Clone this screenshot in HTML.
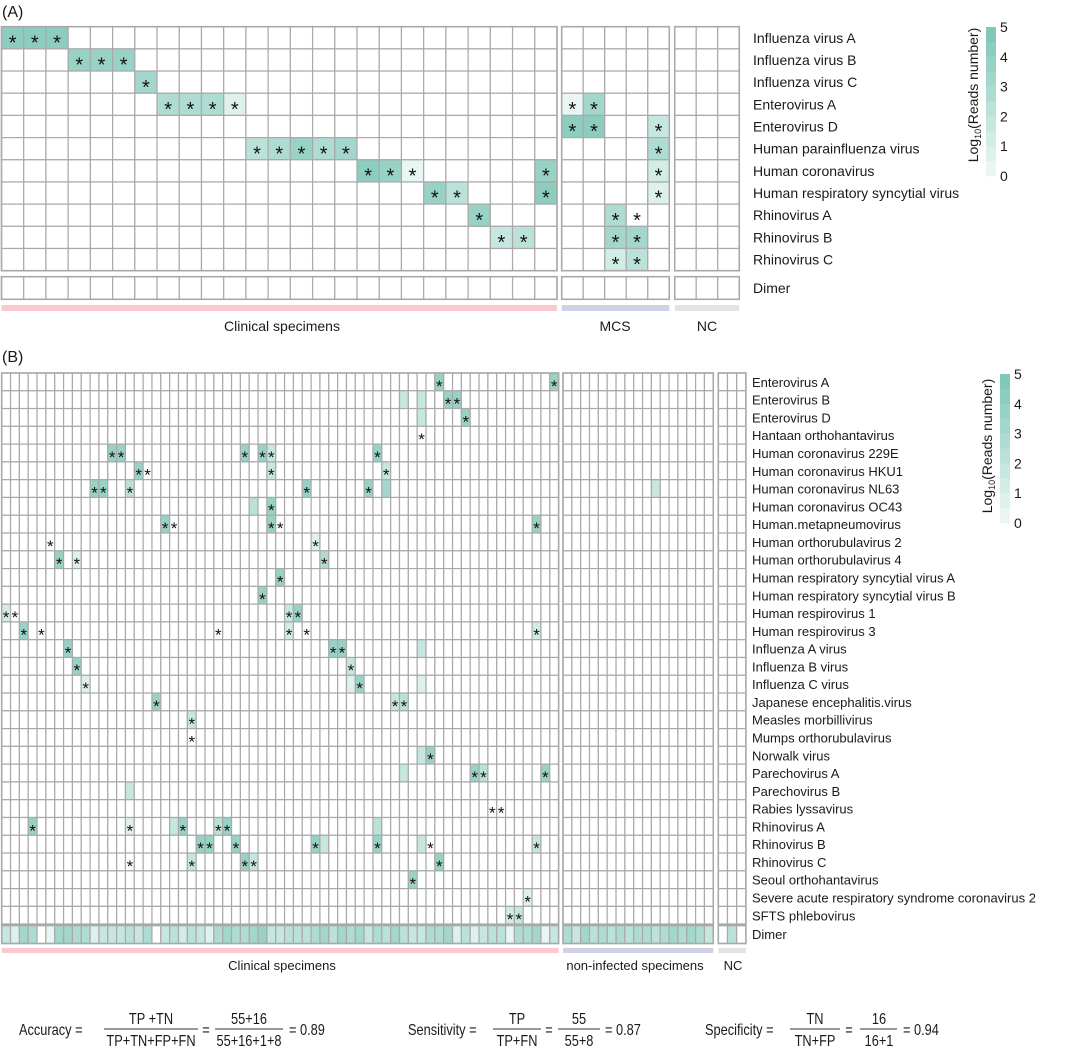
<!DOCTYPE html>
<html><head><meta charset="utf-8">
<style>
html,body{margin:0;padding:0;background:#fff;}
svg{display:block;font-family:"Liberation Sans",Arial,sans-serif;}
</style></head>
<body>
<svg id="chart" width="1080" height="1050" viewBox="0 0 1080 1050" xmlns="http://www.w3.org/2000/svg">
<g id="root"></g>
</svg>
<script>
// ---------- Panel A data ----------
const rowsA = ["Influenza virus A","Influenza virus B","Influenza virus C","Enterovirus A","Enterovirus D","Human parainfluenza virus","Human coronavirus","Human respiratory syncytial virus","Rhinovirus A","Rhinovirus B","Rhinovirus C"];
// [row, col, log10 value, star]
const clinicalA = [[0,0,4.5,1],[0,1,4.5,1],[0,2,4.5,1],[1,3,4,1],[1,4,4,1],[1,5,4,1],[2,6,3.5,1],
 [3,7,3,1],[3,8,3,1],[3,9,3,1],[3,10,1,1],[5,11,2.5,1],[5,12,3,1],[5,13,4,1],[5,14,3,1],[5,15,3.5,1],
 [6,16,4.5,1],[6,17,4,1],[6,18,0.5,1],[6,24,4,1],[7,19,4,1],[7,20,2.5,1],[7,24,4.5,1],[8,21,4,1],[9,22,2,1],[9,23,2.5,1]];
const mcsA = [[3,0,0.5,1],[3,1,3.5,1],[4,0,4.5,1],[4,1,4.5,1],[4,4,2,1],[5,4,3,1],[6,4,1.5,1],[7,4,1,1],
 [8,2,3,1],[8,3,0,1],[9,2,3.5,1],[9,3,3.5,1],[10,2,1.5,1],[10,3,2.5,1]];
const ncA = [];
const dimerClinA = new Array(25).fill(0);
const dimerMcsA = [0,0,0,0,0];
const dimerNcA = [0,0,0];

// ---------- Panel B data ----------
const rowsB = ["Enterovirus A","Enterovirus B","Enterovirus D","Hantaan orthohantavirus","Human coronavirus 229E","Human coronavirus HKU1","Human coronavirus NL63","Human coronavirus OC43","Human.metapneumovirus","Human orthorubulavirus 2","Human orthorubulavirus 4","Human respiratory syncytial virus A","Human respiratory syncytial virus B","Human respirovirus 1","Human respirovirus 3","Influenza A virus","Influenza B virus","Influenza C virus","Japanese encephalitis.virus","Measles morbillivirus","Mumps orthorubulavirus","Norwalk virus","Parechovirus A","Parechovirus B","Rabies lyssavirus","Rhinovirus A","Rhinovirus B","Rhinovirus C","Seoul orthohantavirus","Severe acute respiratory syndrome coronavirus 2","SFTS phlebovirus"];
const clinicalB = [
 [0,49,4,1],[0,62,4,1],
 [1,45,2,0],[1,47,2,0],[1,50,4,1],[1,51,4,1],
 [2,47,2,0],[2,52,4,1],
 [3,47,0,1],
 [4,12,4,1],[4,13,4,1],[4,27,4,1],[4,29,4,1],[4,30,2,1],[4,42,4,1],
 [5,15,4,1],[5,16,0,1],[5,30,2,1],[5,43,2,1],
 [6,10,4,1],[6,11,4,1],[6,14,2.5,1],[6,34,4,1],[6,41,4,1],[6,43,3.5,0],
 [7,28,2.5,0],[7,30,4,1],
 [8,18,4,1],[8,19,0,1],[8,30,4,1],[8,31,0,1],[8,60,4,1],
 [9,5,0,1],[9,35,1,1],
 [10,6,4,1],[10,8,1,1],[10,36,3,1],
 [11,31,4,1],
 [12,29,4,1],
 [13,0,1.5,1],[13,1,0,1],[13,32,2,1],[13,33,4,1],
 [14,2,4,1],[14,4,0,1],[14,24,0,1],[14,32,1.5,1],[14,34,0,1],[14,60,1.5,1],
 [15,7,4,1],[15,37,4,1],[15,38,4,1],[15,47,2,0],
 [16,8,4,1],[16,39,2,1],
 [17,9,1,1],[17,39,1,0],[17,40,4,1],[17,47,1,0],
 [18,17,4,1],[18,44,2,1],[18,45,2.5,1],
 [19,21,2,1],
 [20,21,0,1],
 [21,47,2,0],[21,48,4,1],
 [22,45,2,0],[22,53,4,1],[22,54,2.5,1],[22,61,4,1],
 [23,14,2,0],
 [24,55,0,1],[24,56,0,1],
 [25,3,4,1],[25,14,1,1],[25,19,2,0],[25,20,4,1],[25,24,2.5,1],[25,25,4,1],[25,42,2.5,0],
 [26,22,4,1],[26,23,4,1],[26,26,4,1],[26,35,4,1],[26,36,2,0],[26,42,4,1],[26,47,2,0],[26,48,0,1],[26,60,2,1],
 [27,14,0,1],[27,21,2,1],[27,27,4,1],[27,28,2,1],[27,49,4,1],
 [28,46,4,1],
 [29,59,1,1],
 [30,57,1.5,1],[30,58,2,1]
];
const nonInfB = [[6,10,2,0]];
const ncB = [];
const dimerClinB = [2,1,3.5,3,0,0.5,3.5,3.5,3,3,1,2,2,2,2.5,2,3,0,2,2.5,1.5,2.5,2,1,3,3.5,3,3,3.5,4,2,2,2.5,2.5,2.5,3,3.5,2.5,3.5,3,3.5,2,3,2.5,3.5,2.5,2,2,3,3,3.5,1,2.5,1,2,2.5,2.5,0.5,3,3,3.5,0.5,2];
const dimerNonInfB = [3,2,3.5,2.5,3,2.5,3,2.5,3,3,2.5,3,3.5,3,3.5,3,2];
const dimerNcB = [0,2.5,0];
const legendTicks = [0,1,2,3,4,5];

// ---------- helpers ----------
const NS = "http://www.w3.org/2000/svg";
const root = document.getElementById("root");
function mk(tag, attrs, parent){
  const e = document.createElementNS(NS, tag);
  for (const k in attrs) e.setAttribute(k, attrs[k]);
  (parent || root).appendChild(e);
  return e;
}
function color(v){
  if (v <= 0) return "#ffffff";
  const q = Math.min(5, Math.ceil(v*2)/2);
  const t = q/5;
  const r = Math.round(245 + (128-245)*t), g = Math.round(251 + (200-251)*t), b = Math.round(249 + (184-249)*t);
  return "rgb("+r+","+g+","+b+")";
}
const GRID = "#a9a9a9";

function block(name, x0, y0, cw, rh, ncol, nrow, cells, starSize){
  const g = mk("g", {});
  
  
  const xs = c => x0 + c*cw;
  const ys = r => y0 + r*rh;
  const map = {};
  cells.forEach(d => { map[d[0]+"_"+d[1]] = d; });
  for (let r=0;r<nrow;r++){
    for (let c=0;c<ncol;c++){
      const d = map[r+"_"+c];
      const rect = mk("rect", {x:xs(c), y:ys(r), width:cw, height:rh, fill: d ? color(d[2]) : "#fff", stroke:GRID, "stroke-width":1.2}, g);
      
      
    }
  }
  cells.forEach(d => {
    if (!d[3]) return;
    const t = mk("text", {x:xs(d[1])+cw/2, y:ys(d[0])+rh/2+starSize*0.58, "text-anchor":"middle", "font-size":starSize, fill:"#111"}, g);
    t.textContent = "*";
    
    
  });
  mk("rect", {x:x0, y:y0, width:cw*ncol, height:rh*nrow, fill:"none", stroke:GRID, "stroke-width":1.6}, g);
}
function dimerRow(name, x0, y0, cw, rh, vals){
  const g = mk("g", {});
  
  
  vals.forEach((v,i) => {
    const r = mk("rect", {x:x0+i*cw, y:y0, width:cw, height:rh, fill:color(v), stroke:GRID, "stroke-width":1.2}, g);
    
    
  });
  mk("rect", {x:x0, y:y0, width:cw*vals.length, height:rh, fill:"none", stroke:GRID, "stroke-width":1.6}, g);
}
function label(txt, x, y, size, anchor, name){
  const t = mk("text", {x:x, y:y, "font-size":size, "text-anchor":anchor||"start", fill:"#1a1a1a"});
  t.textContent = txt;
  
  
  return t;
}
function legend(name, x, yTop, unit, labelX, titleX, titleY){
  const g = mk("g", {});
  
  
  const vy = v => yTop + (5 - v)*unit;
  for (let v=5; v>0.25; v-=0.5){
    const r = mk("rect", {x:x, y:vy(v), width:10, height:unit/2+0.3, fill:color(v)}, g);
    
    
  }
  legendTicks.forEach(v => {
    const t = mk("text", {x:labelX, y:vy(v)+5, "font-size":14, fill:"#1a1a1a"}, g);
    t.textContent = String(v);
    
    
  });
  const tt = mk("text", {x:0, y:0, "font-size":14, "text-anchor":"middle", fill:"#1a1a1a", transform:"translate("+titleX+","+titleY+") rotate(-90)"}, g);
  
  
  tt.appendChild(document.createTextNode("Log"));
  const sub = document.createElementNS(NS, "tspan");
  sub.setAttribute("font-size", "9"); sub.setAttribute("dy", "3");
  sub.textContent = "10";
  tt.appendChild(sub);
  const rest = document.createElementNS(NS, "tspan");
  rest.setAttribute("dy", "-3");
  rest.textContent = "(Reads number)";
  tt.appendChild(rest);
}
function bar(name, x, y, w, h, fill){
  const r = mk("rect", {x:x, y:y, width:w, height:h, fill:fill});
  
  
}

// ---------- Panel A ----------
label("(A)", 2, 17, 16, "start", "panel-a-label");
const aY0 = 26.7, aRH = 22.18;
block("panel-a-clinical-block", 1.5, aY0, 22.22, aRH, 25, 11, clinicalA, 20);
block("panel-a-mcs-block", 561.7, aY0, 21.52, aRH, 5, 11, mcsA, 20);
block("panel-a-nc-block", 674.7, aY0, 21.52, aRH, 3, 11, ncA, 20);
dimerRow("panel-a-dimer-clinical", 1.5, 276.7, 22.22, 22.6, dimerClinA);
dimerRow("panel-a-dimer-mcs", 561.7, 276.7, 21.52, 22.6, dimerMcsA);
dimerRow("panel-a-dimer-nc", 674.7, 276.7, 21.52, 22.6, dimerNcA);
rowsA.forEach((n,i) => label(n, 753, aY0 + (i+0.5)*aRH + 5, 14, "start", "row-label"));
label("Dimer", 753, 293, 14, "start", "row-label");
bar("clinical-group-bar", 1.5, 305, 555.5, 6, "#fcc9cf");
bar("mcs-group-bar", 561.7, 305, 107.6, 6, "#cfd2e4");
bar("nc-group-bar", 674.7, 305, 64.6, 6, "#e3e3e3");
label("Clinical specimens", 282, 331, 14, "middle", "clinical-group-label");
label("MCS", 615, 331, 14, "middle", "mcs-group-label");
label("NC", 707, 331, 14, "middle", "nc-group-label");
legend("panel-a-legend", 986, 27, 29.8, 1000, 978, 95);

// ---------- Panel B ----------
label("(B)", 2, 362, 16, "start", "panel-b-label");
const bY0 = 373, bRH = 17.78;
block("panel-b-clinical-block", 1.7, bY0, 8.84, bRH, 63, 31, clinicalB, 17);
block("panel-b-noninfected-block", 563, bY0, 8.84, bRH, 17, 31, nonInfB, 17);
block("panel-b-nc-block", 718.3, bY0, 9.2, bRH, 3, 31, ncB, 17);
dimerRow("panel-b-dimer-clinical", 1.7, 925.5, 8.84, 18, dimerClinB);
dimerRow("panel-b-dimer-noninfected", 563, 925.5, 8.84, 18, dimerNonInfB);
dimerRow("panel-b-dimer-nc", 718.3, 925.5, 9.2, 18, dimerNcB);
rowsB.forEach((n,i) => label(n, 752, bY0 + (i+0.5)*bRH + 5, 13, "start", "row-label"));
label("Dimer", 752, 939, 13, "start", "row-label");
bar("clinical-group-bar", 1.7, 948, 556.9, 5, "#fcc9cf");
bar("noninfected-group-bar", 563, 948, 150.3, 5, "#cfd2e4");
bar("nc-group-bar", 718.3, 948, 27.6, 5, "#e3e3e3");
label("Clinical specimens", 282, 970, 13, "middle", "clinical-group-label");
label("non-infected specimens", 635, 970, 13, "middle", "noninfected-group-label");
label("NC", 733, 970, 13, "middle", "nc-group-label");
legend("panel-b-legend", 1000, 374, 29.8, 1014, 992, 446);

// ---------- formulas ----------
function ftxt(t, x, y, anchor, name){
  const e = mk("text", {x:0, y:0, "font-size":16, "text-anchor":anchor, fill:"#1a1a1a", transform:"translate("+x+","+y+") scale(0.8,1)"});
  e.textContent = t;
  
  
}
function frac(num, den, cx, x1, x2, name){
  ftxt(num, cx, 1024, "middle", name+"-numerator");
  ftxt(den, cx, 1046, "middle", name+"-denominator");
  const l = mk("line", {x1:x1, y1:1029, x2:x2, y2:1029, stroke:"#333", "stroke-width":1});
  
  
}
ftxt("Accuracy =", 19, 1035, "start", "accuracy-label");
frac("TP +TN", "TP+TN+FP+FN", 151, 104, 198, "accuracy-formula");
ftxt("=", 206, 1035, "middle", "equals");
frac("55+16", "55+16+1+8", 249, 215, 283, "accuracy-values");
ftxt("= 0.89", 289, 1035, "start", "accuracy-result");
ftxt("Sensitivity =", 408, 1035, "start", "sensitivity-label");
frac("TP", "TP+FN", 517, 493, 541, "sensitivity-formula");
ftxt("=", 549, 1035, "middle", "equals");
frac("55", "55+8", 579, 558, 600, "sensitivity-values");
ftxt("= 0.87", 605, 1035, "start", "sensitivity-result");
ftxt("Specificity =", 705, 1035, "start", "specificity-label");
frac("TN", "TN+FP", 815, 790, 840, "specificity-formula");
ftxt("=", 849, 1035, "middle", "equals");
frac("16", "16+1", 879, 860, 897, "specificity-values");
ftxt("= 0.94", 903, 1035, "start", "specificity-result");
</script>
</body></html>
